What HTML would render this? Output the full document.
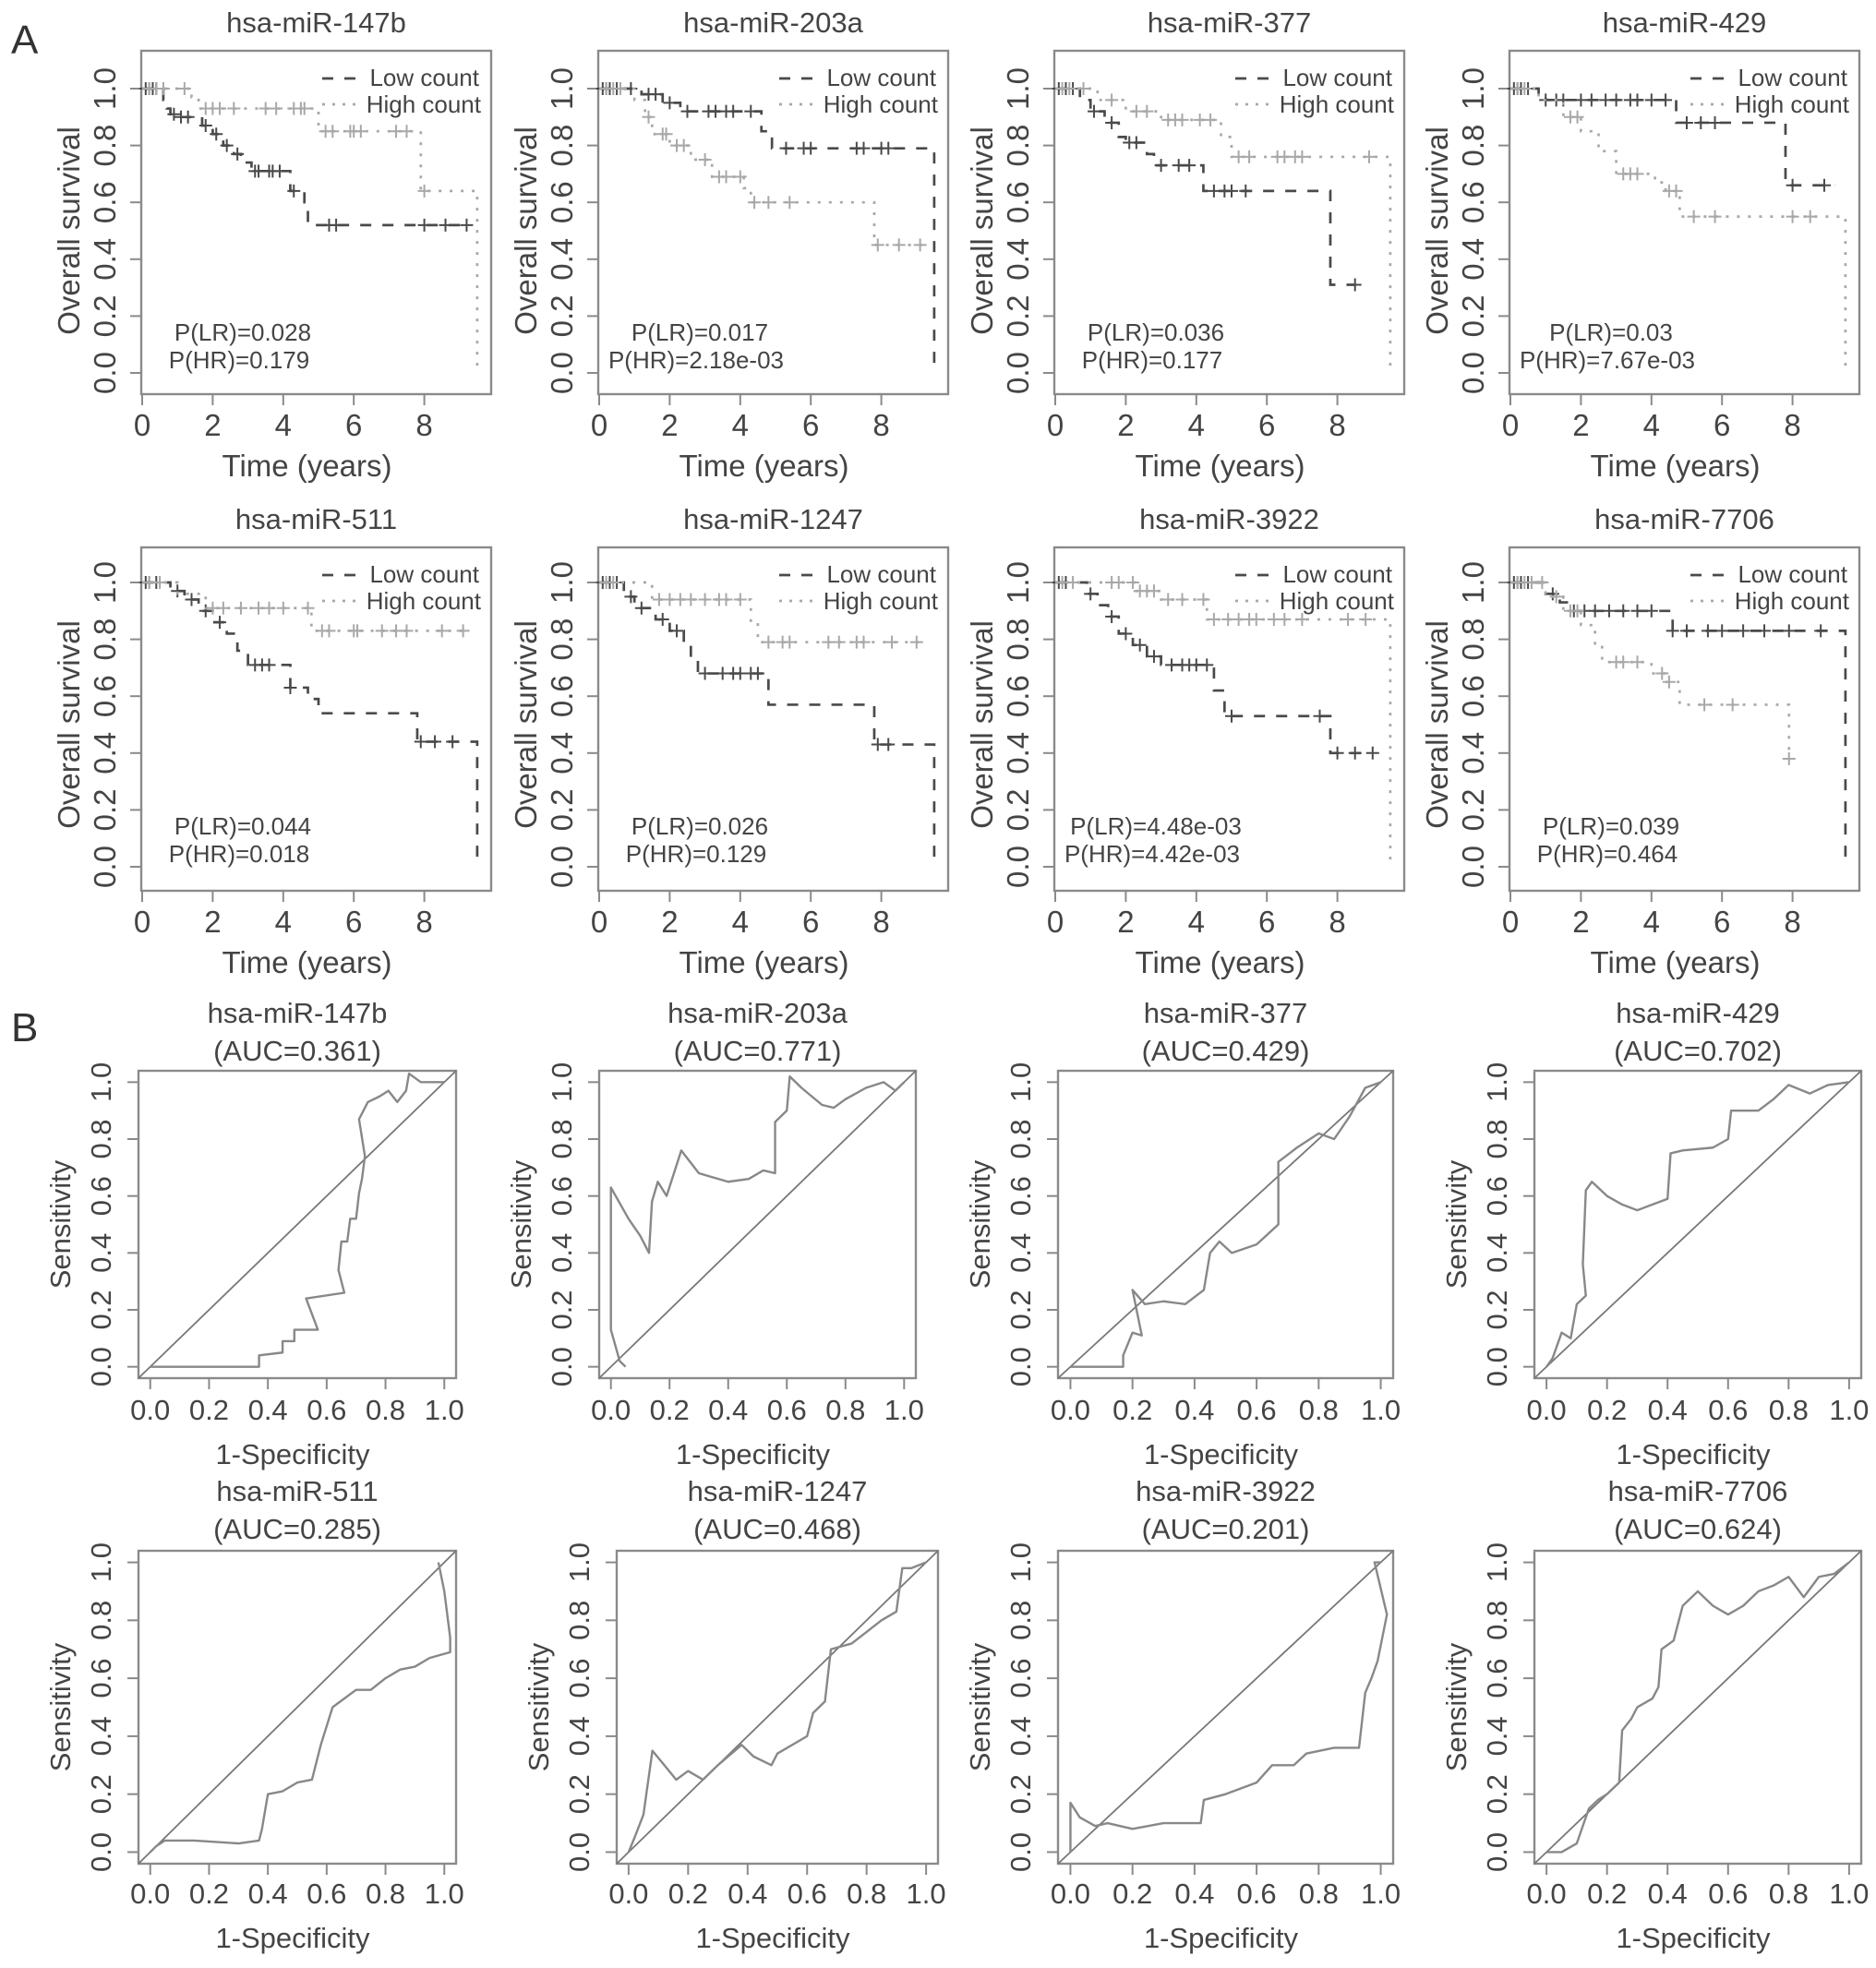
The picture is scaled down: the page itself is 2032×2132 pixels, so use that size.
<!DOCTYPE html>
<html><head><meta charset="utf-8">
<style>
html,body{margin:0;padding:0;background:#fff;}
svg{display:block;font-family:"Liberation Sans",sans-serif;}
</style></head>
<body>
<svg id="fig" width="2032" height="2132" viewBox="0 0 2032 2132">
<text x="12" y="58" font-size="44" fill="#333">A</text>
<text x="12" y="1128" font-size="44" fill="#333">B</text>
</svg>
<script>
// ---------- Kaplan-Meier data (panel A) ----------
const kmNames = ["hsa-miR-147b","hsa-miR-203a","hsa-miR-377","hsa-miR-429","hsa-miR-511","hsa-miR-1247","hsa-miR-3922","hsa-miR-7706"];
const kmPLR = ["P(LR)=0.028","P(LR)=0.017","P(LR)=0.036","P(LR)=0.03","P(LR)=0.044","P(LR)=0.026","P(LR)=4.48e-03","P(LR)=0.039"];
const kmPHR = ["P(HR)=0.179","P(HR)=2.18e-03","P(HR)=0.177","P(HR)=7.67e-03","P(HR)=0.018","P(HR)=0.129","P(HR)=4.42e-03","P(HR)=0.464"];
const kmXTicks = [0,2,4,6,8];
const kmYTicks = [0,0.2,0.4,0.6,0.8,1.0];
const lowT = [
 [0,0.6,0.7,0.8,1.0,1.7,2.0,2.3,2.6,2.8,3.1,4.2,4.6,4.7,9.3],
 [0,1.2,1.8,2.3,4.6,4.9,9.5,9.5],
 [0,0.7,1.0,1.4,1.8,2.0,2.6,2.8,4.2,7.8,8.5],
 [0,0.8,1.0,4.7,7.8,9.2],
 [0,0.8,1.2,1.6,2.0,2.4,2.7,3.0,4.2,4.7,5.0,7.8,9.5,9.5],
 [0,0.7,1.0,1.6,2.0,2.4,2.6,2.8,4.8,7.8,9.5,9.5],
 [0,0.9,1.2,1.5,1.8,2.2,2.6,3.0,4.5,4.8,7.8,9.0],
 [0,1.0,1.4,1.6,4.6,9.5,9.5]
];
const lowS = [
 [1,0.96,0.93,0.91,0.9,0.87,0.84,0.8,0.77,0.74,0.71,0.64,0.6,0.52,0.52],
 [1,0.98,0.95,0.92,0.85,0.79,0.79,0],
 [1,0.96,0.92,0.88,0.83,0.81,0.77,0.73,0.64,0.31,0.31],
 [1,0.97,0.96,0.88,0.66,0.66],
 [1,0.97,0.94,0.9,0.86,0.82,0.76,0.71,0.63,0.59,0.54,0.44,0.44,0],
 [1,0.95,0.91,0.87,0.83,0.78,0.73,0.68,0.57,0.43,0.43,0],
 [1,0.96,0.92,0.88,0.82,0.78,0.74,0.71,0.62,0.53,0.4,0.4],
 [1,0.96,0.93,0.9,0.83,0.83,0]
];
const highT = [
 [0,1.4,1.6,5.0,7.9,9.5,9.5],
 [0,1.0,1.3,1.5,2.0,2.6,3.2,4.1,4.3,7.8,9.2],
 [0,1.2,2.0,3.0,4.7,5.0,9.5,9.5],
 [0,0.8,1.5,2.0,2.5,3.0,4.1,4.4,4.8,9.5,9.5],
 [0,1.0,1.8,4.8,9.3],
 [0,1.5,4.3,4.5,9.2],
 [0,2.3,3.0,4.3,9.5,9.5],
 [0,1.0,1.5,2.0,2.4,2.6,4.0,4.4,4.8,7.9,7.9]
];
const highS = [
 [1,0.97,0.93,0.85,0.64,0.64,0],
 [1,0.96,0.9,0.84,0.8,0.75,0.69,0.65,0.6,0.45,0.45],
 [1,0.96,0.92,0.89,0.83,0.76,0.76,0],
 [1,0.96,0.9,0.85,0.78,0.7,0.67,0.64,0.55,0.55,0],
 [1,0.96,0.91,0.83,0.83],
 [1,0.94,0.86,0.79,0.79],
 [1,0.97,0.94,0.87,0.87,0],
 [1,0.95,0.9,0.85,0.78,0.72,0.68,0.65,0.57,0.38,0.38]
];
const lowC = [
 [0.1,0.2,0.3,0.4,0.9,1.1,1.3,1.8,2.1,2.4,2.7,3.2,3.3,3.6,3.7,3.9,4.3,5.3,5.5,8.0,8.6,9.2],
 [0.1,0.2,0.3,0.5,0.9,1.4,1.6,2.0,2.5,3.1,3.3,3.6,3.8,4.3,5.3,5.8,6.0,7.3,7.5,8.0,8.2],
 [0.1,0.3,0.5,1.1,1.6,2.1,2.3,3.0,3.5,3.8,4.5,4.8,5.0,5.4,8.5],
 [0.1,0.2,0.3,0.5,1.0,1.3,1.5,2.0,2.3,2.7,3.0,3.4,3.6,4.0,4.4,5.0,5.4,5.8,8.0,8.9],
 [0.1,0.2,0.4,1.0,1.4,1.8,2.2,3.2,3.4,3.6,4.2,7.9,8.3,8.8],
 [0.1,0.3,0.5,0.9,1.2,1.8,2.2,3.0,3.5,3.8,4.0,4.3,4.5,7.9,8.2],
 [0.1,0.3,1.0,1.6,2.0,2.4,2.8,3.3,3.6,3.8,4.0,4.3,5.0,7.5,8.0,8.5,9.0],
 [0.1,0.2,0.3,0.5,1.2,1.8,2.1,2.4,2.8,3.2,3.6,4.0,4.6,5.0,5.6,6.0,6.6,7.2,7.9,8.8]
];
const highC = [
 [0.2,0.4,0.6,1.2,1.8,2.0,2.2,2.6,3.5,3.8,4.3,4.5,4.6,5.2,5.4,5.9,6.0,6.2,7.2,7.5,8.0],
 [0.2,0.4,0.6,1.4,1.8,1.9,2.2,2.4,3.0,3.4,3.6,4.0,4.4,4.8,5.4,7.9,8.5,9.1],
 [0.2,0.4,0.8,1.6,2.3,2.6,3.2,3.4,3.6,4.1,4.4,5.2,5.5,6.3,6.5,6.8,7.0,8.9],
 [0.2,0.4,1.7,1.9,3.2,3.4,3.6,4.5,4.7,5.2,5.8,8.0,8.5],
 [0.2,0.5,2.0,2.3,2.8,3.3,3.6,4.0,4.7,5.1,5.3,6.0,6.1,6.8,7.2,7.5,8.5,9.1],
 [0.2,0.4,1.7,2.0,2.3,2.6,3.0,3.4,3.6,4.0,4.8,5.2,5.4,6.5,6.8,7.3,7.5,8.3,9.0],
 [0.2,0.5,1.6,1.8,2.2,2.4,2.6,2.8,3.2,3.6,4.2,4.5,4.9,5.2,5.5,5.7,6.2,6.5,7.0,8.3,8.8],
 [0.2,0.4,0.6,0.9,1.3,1.7,1.9,3.0,3.2,3.6,4.3,4.5,5.5,6.3,7.9]
];

// ---------- ROC data (panel B) ----------
const rocNames = ["hsa-miR-147b","hsa-miR-203a","hsa-miR-377","hsa-miR-429","hsa-miR-511","hsa-miR-1247","hsa-miR-3922","hsa-miR-7706"];
const rocAUC = ["(AUC=0.361)","(AUC=0.771)","(AUC=0.429)","(AUC=0.702)","(AUC=0.285)","(AUC=0.468)","(AUC=0.201)","(AUC=0.624)"];
const rocTicks = [0,0.2,0.4,0.6,0.8,1.0];
const rocFPR = [
 [0,0.37,0.37,0.45,0.45,0.49,0.49,0.57,0.53,0.66,0.64,0.65,0.67,0.68,0.7,0.71,0.72,0.73,0.71,0.74,0.78,0.81,0.84,0.87,0.88,0.92,0.97,1.0],
 [0.05,0.03,0.0,0.0,0.06,0.1,0.13,0.14,0.16,0.19,0.24,0.3,0.4,0.47,0.52,0.56,0.56,0.6,0.61,0.65,0.72,0.76,0.8,0.87,0.93,0.97,1.0],
 [0,0.17,0.17,0.2,0.23,0.2,0.24,0.3,0.37,0.43,0.45,0.48,0.52,0.6,0.67,0.67,0.73,0.8,0.85,0.9,0.95,1.0],
 [0,0.02,0.05,0.08,0.1,0.13,0.12,0.13,0.15,0.2,0.25,0.3,0.35,0.4,0.41,0.45,0.55,0.6,0.61,0.7,0.75,0.8,0.87,0.93,1.0],
 [0,0.02,0.05,0.15,0.3,0.37,0.38,0.4,0.45,0.5,0.55,0.58,0.62,0.7,0.75,0.8,0.85,0.9,0.95,1.02,1.02,1.0,0.98],
 [0,0.02,0.05,0.08,0.12,0.16,0.2,0.25,0.3,0.38,0.42,0.48,0.5,0.6,0.62,0.66,0.68,0.75,0.8,0.85,0.9,0.92,0.95,1.0],
 [0,0.0,0.03,0.08,0.12,0.2,0.3,0.42,0.43,0.5,0.6,0.65,0.72,0.76,0.85,0.93,0.95,0.97,0.99,1.02,0.98,1.0],
 [0,0.05,0.1,0.14,0.17,0.2,0.24,0.25,0.28,0.3,0.35,0.37,0.38,0.42,0.45,0.5,0.55,0.6,0.65,0.7,0.75,0.8,0.85,0.9,0.95,1.0]
];
const rocTPR = [
 [0,0,0.04,0.05,0.09,0.09,0.13,0.13,0.24,0.26,0.34,0.44,0.44,0.52,0.52,0.61,0.66,0.74,0.87,0.93,0.95,0.97,0.93,0.97,1.03,1.0,1.0,1.0],
 [0,0.02,0.13,0.63,0.52,0.46,0.4,0.58,0.65,0.6,0.76,0.68,0.65,0.66,0.69,0.68,0.86,0.9,1.02,0.98,0.92,0.91,0.94,0.98,1.0,0.97,1.0],
 [0,0,0.04,0.12,0.11,0.27,0.22,0.23,0.22,0.27,0.4,0.44,0.4,0.43,0.5,0.72,0.77,0.82,0.8,0.88,0.98,1.0],
 [0,0.03,0.12,0.1,0.22,0.25,0.36,0.62,0.65,0.6,0.57,0.55,0.57,0.59,0.75,0.76,0.77,0.8,0.9,0.9,0.94,0.99,0.96,0.99,1.0],
 [0,0.02,0.04,0.04,0.03,0.04,0.08,0.2,0.21,0.24,0.25,0.37,0.5,0.56,0.56,0.6,0.63,0.64,0.67,0.69,0.74,0.9,1.0],
 [0,0.05,0.13,0.35,0.3,0.25,0.28,0.25,0.3,0.37,0.33,0.3,0.34,0.4,0.48,0.52,0.7,0.72,0.76,0.8,0.83,0.98,0.98,1.0],
 [0,0.17,0.12,0.09,0.1,0.08,0.1,0.1,0.18,0.2,0.24,0.3,0.3,0.34,0.36,0.36,0.55,0.6,0.66,0.82,1.0,1.0],
 [0,0,0.03,0.15,0.18,0.2,0.24,0.42,0.46,0.5,0.53,0.57,0.7,0.73,0.85,0.9,0.85,0.82,0.85,0.9,0.92,0.95,0.88,0.95,0.96,1.0]
];

// ---------- drawing ----------
const NS = "http://www.w3.org/2000/svg";
const svg = document.getElementById("fig");
function mk(tag, attrs, parent){
  const e = document.createElementNS(NS, tag);
  for (const k in attrs) e.setAttribute(k, attrs[k]);
  (parent||svg).appendChild(e);
  return e;
}
const TXT = "#444", BOX = "#8a8a8a";

const kmLeft = [153,648,1142,1635];
const kmW = 379;
const kmRows = [{top:55, y1:96, y0:404, bottom:427},{top:593, y1:631, y0:939, bottom:965}];

function survAt(T,S,t){ let s=S[0]; for(let i=0;i<T.length;i++){ if(T[i]<=t) s=S[i]; } return s; }

function drawKM(i){
  const col=i%4, row=Math.floor(i/4), R=kmRows[row];
  const L=kmLeft[col], W=kmW, H=R.bottom-R.top;
  const pxPerYear = 38.2;
  const xs = t => L+1+t*pxPerYear;
  const ys = s => R.y0 - s*(R.y0-R.y1);
  const g = mk("g",{});
  
  
  const title = mk("text",{x:L+W/2, y:R.top-20, "font-size":31, "text-anchor":"middle", fill:TXT}, g);
  title.textContent = kmNames[i];
  
  
  const box = mk("rect",{x:L,y:R.top,width:W,height:H,fill:"none",stroke:BOX,"stroke-width":2.4}, g);
  
  
  const xa = mk("g",{},g);
  
  
  mk("line",{x1:xs(0),x2:xs(8),y1:R.bottom,y2:R.bottom,stroke:BOX,"stroke-width":2},xa);
  kmXTicks.forEach(v=>{
    mk("line",{x1:xs(v),x2:xs(v),y1:R.bottom,y2:R.bottom+12,stroke:BOX,"stroke-width":2},xa);
    const t = mk("text",{x:xs(v),y:R.bottom+45,"font-size":33,"text-anchor":"middle",fill:TXT},xa);
    t.textContent = v;
    
    
  });
  const xl = mk("text",{x:L+W/2-10,y:R.bottom+89,"font-size":33,"text-anchor":"middle",fill:TXT},g);
  xl.textContent="Time (years)";
  
  
  const ya = mk("g",{},g);
  
  
  kmYTicks.forEach(v=>{
    mk("line",{x1:L-12,x2:L,y1:ys(v),y2:ys(v),stroke:BOX,"stroke-width":2},ya);
    const t = mk("text",{x:0,y:0,"font-size":33,"text-anchor":"middle",fill:TXT,transform:`translate(${L-28},${ys(v)}) rotate(-90)`},ya);
    t.textContent = v.toFixed(1);
    
    
  });
  const yl = mk("text",{x:0,y:0,"font-size":33,"text-anchor":"middle",fill:TXT,transform:`translate(${L-67},${(R.y0+R.y1)/2}) rotate(-90)`},g);
  yl.textContent="Overall survival";
  
  
  function curve(T,S,C,color,dash,name){
    let d = `M${xs(T[0])},${ys(S[0])}`;
    for(let k=1;k<T.length;k++){ d += ` H${xs(T[k])} V${ys(S[k])}`; }
    const p = mk("path",{d:d,fill:"none",stroke:color,"stroke-width":2.7,"stroke-dasharray":dash},g);
    
    
    C.forEach(c=>{
      const cx=xs(c), cy=ys(survAt(T,S,c));
      const m = mk("path",{d:`M${cx-7},${cy}H${cx+7}M${cx},${cy-7}V${cy+7}`,stroke:color,"stroke-width":2},g);
      
      
    });
  }
  curve(lowT[i],lowS[i],lowC[i],"#4a4a4a","12 12","low-count");
  curve(highT[i],highS[i],highC[i],"#a8a8a8","3 9","high-count");
  const lg = mk("g",{},g);
  
  
  mk("line",{x1:L+196,x2:L+232,y1:R.top+30,y2:R.top+30,stroke:"#4a4a4a","stroke-width":2.7,"stroke-dasharray":"12 12"},lg);
  mk("line",{x1:L+196,x2:L+232,y1:R.top+58,y2:R.top+58,stroke:"#a8a8a8","stroke-width":2.7,"stroke-dasharray":"3 8"},lg);
  const l1 = mk("text",{x:L+366,y:R.top+38,"font-size":26,"text-anchor":"end",fill:TXT},lg);
  l1.textContent="Low count";
  
  
  const l2 = mk("text",{x:L+368,y:R.top+67,"font-size":26,"text-anchor":"end",fill:TXT},lg);
  l2.textContent="High count";
  
  
  const p1 = mk("text",{x:L+110,y:R.y0-35,"font-size":26,"text-anchor":"middle",fill:TXT},g);
  p1.textContent=kmPLR[i];
  
  
  const p2 = mk("text",{x:L+106,y:R.y0-5,"font-size":26,"text-anchor":"middle",fill:TXT},g);
  p2.textContent=kmPHR[i];
  
  
}

const rocLeft = [[150,649,1146,1662],[150,668,1146,1662]];
const rocW = [[344,343,363,354],[344,348,363,354]];
const rocRows = [{top:1160,bottom:1493,tick:45,lab:93,t:0},{top:1680,bottom:2019,tick:43,lab:91,t:-2}];

function drawROC(i){
  const col=i%4,row=Math.floor(i/4),R=rocRows[row];
  const L=rocLeft[row][col], W=rocW[row][col], H=R.bottom-R.top;
  const xs = v => L + (v+0.04)/1.08*W;
  const ys = v => R.bottom - (v+0.04)/1.08*H;
  const g = mk("g",{});
  
  
  const t1 = mk("text",{x:L+W/2,y:R.top-52+R.t,"font-size":31,"text-anchor":"middle",fill:TXT},g);
  t1.textContent=rocNames[i];
  
  
  const t2 = mk("text",{x:L+W/2,y:R.top-11+R.t,"font-size":31,"text-anchor":"middle",fill:TXT},g);
  t2.textContent=rocAUC[i];
  
  
  const box = mk("rect",{x:L,y:R.top,width:W,height:H,fill:"none",stroke:BOX,"stroke-width":2.4},g);
  
  
  const xa = mk("g",{},g);
  
  
  mk("line",{x1:xs(0),x2:xs(1),y1:R.bottom,y2:R.bottom,stroke:BOX,"stroke-width":2},xa);
  const ya = mk("g",{},g);
  
  
  rocTicks.forEach(v=>{
    mk("line",{x1:xs(v),x2:xs(v),y1:R.bottom,y2:R.bottom+12,stroke:BOX,"stroke-width":2},xa);
    const tx = mk("text",{x:xs(v),y:R.bottom+R.tick,"font-size":31,"text-anchor":"middle",fill:TXT},xa);
    tx.textContent=v.toFixed(1);
    
    
    mk("line",{x1:L-12,x2:L,y1:ys(v),y2:ys(v),stroke:BOX,"stroke-width":2},ya);
    const ty = mk("text",{x:0,y:0,"font-size":31,"text-anchor":"middle",fill:TXT,transform:`translate(${L-30},${ys(v)}) rotate(-90)`},ya);
    ty.textContent=v.toFixed(1);
    
    
  });
  const xl = mk("text",{x:L+W/2-5,y:R.bottom+R.lab,"font-size":31,"text-anchor":"middle",fill:TXT},g);
  xl.textContent="1-Specificity";
  
  
  const yl = mk("text",{x:0,y:0,"font-size":31,"text-anchor":"middle",fill:TXT,transform:`translate(${L-74},${(ys(0)+ys(1))/2}) rotate(-90)`},g);
  yl.textContent="Sensitivity";
  
  
  const diag = mk("line",{x1:xs(-0.04),y1:ys(-0.04),x2:xs(1.04),y2:ys(1.04),stroke:"#777","stroke-width":1.8},g);
  
  
  const F=rocFPR[i], T=rocTPR[i];
  let d = "";
  for(let k=0;k<F.length;k++){ d += (k?" L":"M")+xs(F[k])+","+ys(T[k]); }
  const p = mk("path",{d:d,fill:"none",stroke:"#888","stroke-width":2.4,"stroke-linejoin":"round"},g);
  
  
}

for(let i=0;i<8;i++){ drawKM(i); drawROC(i); }
</script>
</body></html>
